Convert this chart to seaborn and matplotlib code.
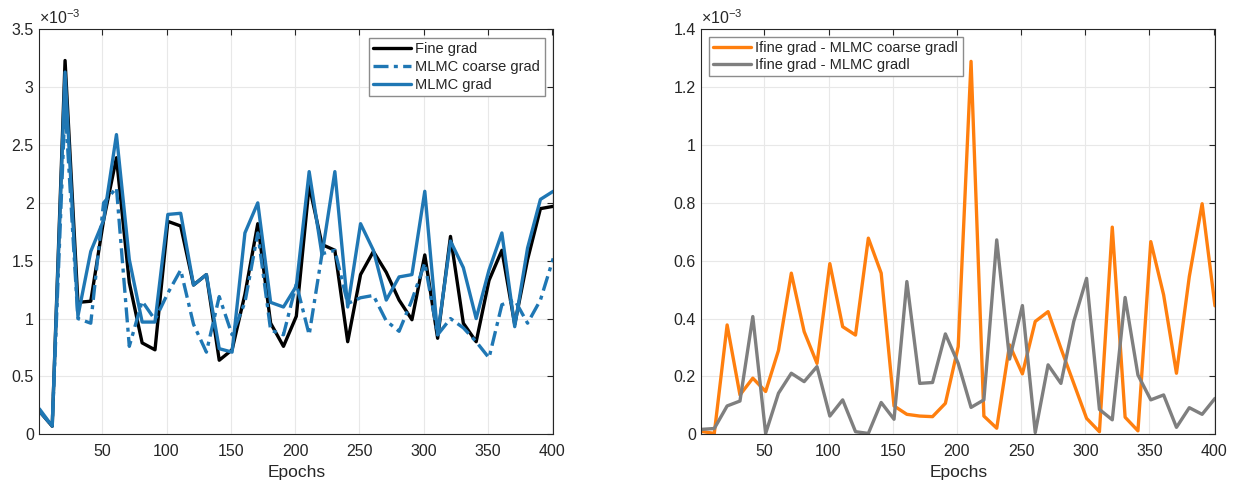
import matplotlib
matplotlib.use("Agg")
import matplotlib.pyplot as plt
import seaborn as sns
import pandas as pd

# epochs sampled every 10
epochs = list(range(1, 402, 10))

# left panel, values in units of 1e-3
fine_grad = [0.20, 0.07, 3.23, 1.14, 1.15, 1.85, 2.39, 1.31, 0.79, 0.73, 1.84,
             1.80, 1.29, 1.38, 0.64, 0.73, 1.21, 1.82, 0.96, 0.76, 1.02,
             2.15, 1.64, 1.59, 0.80, 1.38, 1.58, 1.40, 1.16, 0.99, 1.55,
             0.83, 1.71, 0.96, 0.80, 1.33, 1.59, 0.95, 1.51, 1.95, 1.97]
coarse_grad = [0.20, 0.07, 2.85, 1.00, 0.96, 2.00, 2.13, 0.76, 1.15, 0.99, 1.22,
               1.42, 0.95, 0.71, 1.19, 0.86, 1.14, 1.74, 0.90, 0.86, 1.30,
               0.86, 1.56, 1.59, 1.13, 1.18, 1.20, 0.98, 0.89, 1.16, 1.48,
               0.86, 1.00, 0.92, 0.80, 0.66, 1.12, 1.16, 0.96, 1.16, 1.52]
mlmc_grad = [0.22, 0.07, 3.13, 1.02, 1.58, 1.85, 2.59, 1.51, 0.97, 0.97, 1.90,
             1.91, 1.29, 1.38, 0.74, 0.71, 1.74, 2.00, 1.14, 1.10, 1.28,
             2.27, 1.55, 2.27, 1.10, 1.82, 1.59, 1.16, 1.36, 1.38, 2.10,
             0.86, 1.67, 1.44, 1.00, 1.42, 1.74, 0.93, 1.61, 2.03, 2.10]

# right panel, values in units of 1e-3
diff_coarse = [0.010, 0.003, 0.378, 0.136, 0.194, 0.148, 0.290, 0.557, 0.355, 0.245, 0.590,
               0.372, 0.343, 0.678, 0.557, 0.098, 0.069, 0.063, 0.061, 0.107, 0.303,
               1.289, 0.063, 0.021, 0.309, 0.209, 0.390, 0.424, 0.297, 0.176, 0.055,
               0.009, 0.716, 0.059, 0.012, 0.666, 0.482, 0.211, 0.545, 0.797, 0.444]
diff_mlmc = [0.017, 0.020, 0.098, 0.115, 0.407, 0.003, 0.142, 0.211, 0.182, 0.234, 0.063,
             0.119, 0.009, 0.003, 0.110, 0.052, 0.528, 0.176, 0.179, 0.347, 0.245,
             0.093, 0.119, 0.672, 0.260, 0.445, 0.006, 0.240, 0.176, 0.390, 0.539,
             0.086, 0.050, 0.473, 0.205, 0.119, 0.136, 0.024, 0.092, 0.069, 0.124]

left_labels = ["Fine grad", "MLMC coarse grad", "MLMC grad"]
right_labels = ["Ifine grad - MLMC coarse gradl", "Ifine grad - MLMC gradl"]

sns.set_style("white")
plt.rcParams["font.family"] = ["Liberation Sans", "DejaVu Sans"]
plt.rcParams["mathtext.fontset"] = "custom"
plt.rcParams["mathtext.rm"] = "Liberation Sans"

dark = "#262626"
blue = "#1f77b4"
orange = "#ff7f0e"
gray = "#7f7f7f"

fig = plt.figure(figsize=(12.38, 4.84), dpi=100)
ax1 = fig.add_axes([0.0318, 0.1027, 0.4151, 0.8368])
ax2 = fig.add_axes([0.5666, 0.1027, 0.4148, 0.8368])

df = pd.DataFrame({"epoch": epochs, "fine": fine_grad, "coarse": coarse_grad,
                   "mlmc": mlmc_grad, "dc": diff_coarse, "dm": diff_mlmc})

lw = 2.4
sns.lineplot(data=df, x="epoch", y="fine", ax=ax1, color="black", lw=lw,
             label=left_labels[0])
sns.lineplot(data=df, x="epoch", y="coarse", ax=ax1, color=blue, lw=lw,
             linestyle=(0, (4.5, 1.6, 1.2, 1.6)), label=left_labels[1])
sns.lineplot(data=df, x="epoch", y="mlmc", ax=ax1, color=blue, lw=lw,
             label=left_labels[2])

sns.lineplot(data=df, x="epoch", y="dc", ax=ax2, color=orange, lw=lw,
             label=right_labels[0])
sns.lineplot(data=df, x="epoch", y="dm", ax=ax2, color=gray, lw=lw,
             label=right_labels[1])


def fmt(v, pos):
    return ("%g" % round(v, 3))


for ax, ymax, ystep in [(ax1, 3.5, 0.5), (ax2, 1.4, 0.2)]:
    ax.set_xlim(1, 401)
    ax.set_ylim(0, ymax)
    ax.set_xticks([50, 100, 150, 200, 250, 300, 350, 400])
    nt = int(round(ymax / ystep))
    ax.set_yticks([round(i * ystep, 3) for i in range(nt + 1)])
    ax.yaxis.set_major_formatter(matplotlib.ticker.FuncFormatter(fmt))
    ax.grid(True, color="#e8e8e8", lw=0.8)
    ax.set_axisbelow(True)
    for s in ax.spines.values():
        s.set_color(dark)
        s.set_linewidth(0.8)
        s.set_visible(True)
    ax.tick_params(direction="in", top=True, right=True, length=4, width=0.8,
                   colors=dark, labelsize=11.5, pad=4)
    ax.tick_params(axis="x", pad=7)
    ax.set_xlabel("Epochs", fontsize=12.5, color=dark, labelpad=4)
    ax.set_ylabel("")
    ax.text(0.0, 1.005, r"$\times\mathregular{10^{-3}}$", transform=ax.transAxes,
            ha="left", va="bottom", fontsize=11.5, color=dark)

ax1.legend(loc="upper right", fancybox=False, edgecolor="#8c8c8c", framealpha=1,
           fontsize=10.5, handlelength=2.6, labelspacing=0.25, borderpad=0.3,
           borderaxespad=0.6, handletextpad=0.3)
ax2.legend(loc="upper left", fancybox=False, edgecolor="#8c8c8c", framealpha=1,
           fontsize=10.5, handlelength=2.6, labelspacing=0.2, borderpad=0.3,
           borderaxespad=0.5, handletextpad=0.3)

fig.savefig("out.png", dpi=100)
